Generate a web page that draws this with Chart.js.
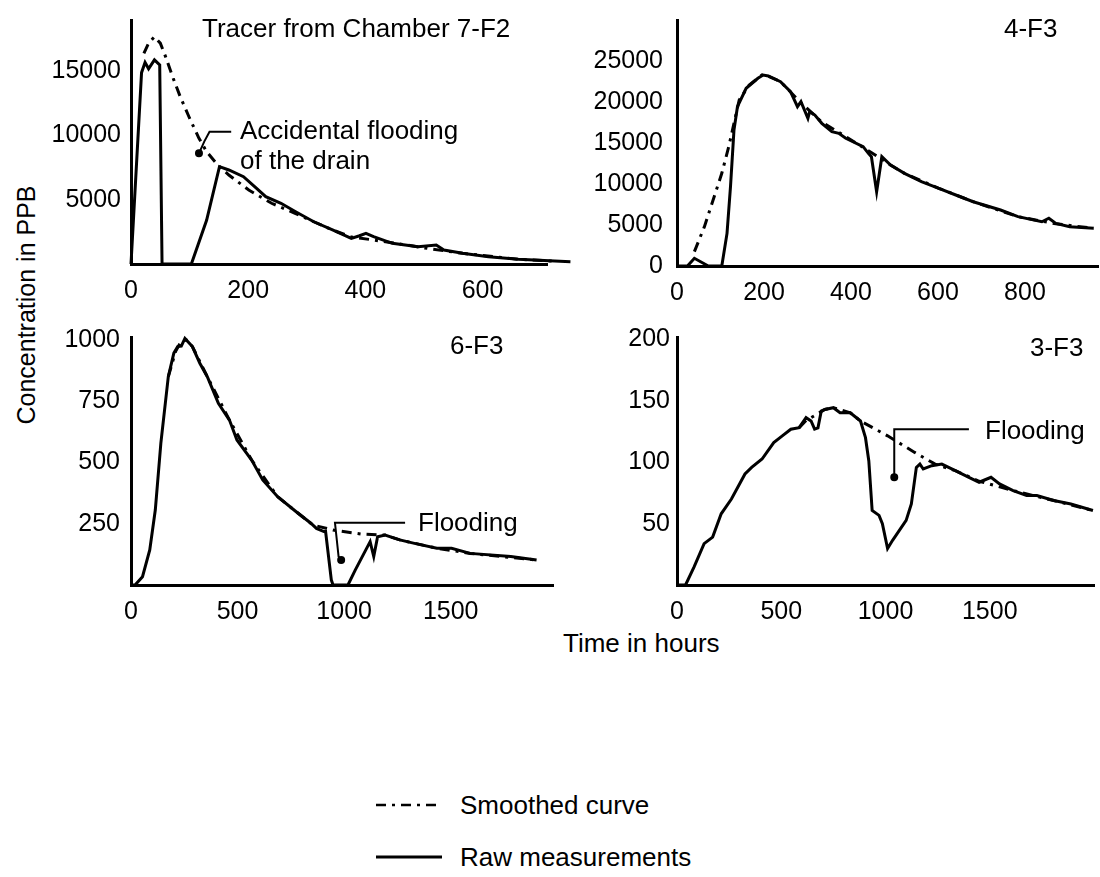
<!DOCTYPE html>
<html>
<head>
<meta charset="utf-8">
<title>Tracer concentrations</title>
<script src="https://cdn.jsdelivr.net/npm/chart.js@4.4.0/dist/chart.umd.min.js"></script>
<style>
  html, body { margin: 0; padding: 0; background: #fff; }
  #page { position: relative; width: 1100px; height: 877px; overflow: hidden;
          font-family: 'Liberation Sans', Arial, Helvetica, sans-serif; color: #000; }
  canvas { position: absolute; }
  .lbl { position: absolute; font-size: 26px; line-height: 26px; white-space: nowrap; }
  #ylab { left: -104px; top: 292px; width: 260px; text-align: center; font-size: 25px;
          transform: rotate(-90deg); }
  svg { position: absolute; }
</style>
</head>
<body>
<div id="page">
  <canvas id="tl"></canvas>
  <canvas id="tr"></canvas>
  <canvas id="bl"></canvas>
  <canvas id="br"></canvas>

  <div class="lbl" style="left:202px;top:15px">Tracer from Chamber 7-F2</div>
  <div class="lbl" style="left:1004px;top:15px">4-F3</div>
  <div class="lbl" style="left:450px;top:332px">6-F3</div>
  <div class="lbl" style="left:1030px;top:334px">3-F3</div>
  <div class="lbl" style="left:240px;top:117px">Accidental flooding</div>
  <div class="lbl" style="left:240px;top:147px">of the drain</div>
  <div class="lbl" style="left:418px;top:509px">Flooding</div>
  <div class="lbl" style="left:985px;top:417px">Flooding</div>
  <div class="lbl" style="left:563px;top:630px">Time in hours</div>
  <div class="lbl" id="ylab">Concentration in PPB</div>

  <svg width="80" height="80" style="left:372px;top:780px">
    <line x1="4" y1="25" x2="70" y2="25" stroke="#000" stroke-width="2.5" stroke-dasharray="10 6 3 6"/>
    <line x1="4" y1="77" x2="70" y2="77" stroke="#000" stroke-width="3"/>
  </svg>
  <div class="lbl" style="left:460px;top:792px">Smoothed curve</div>
  <div class="lbl" style="left:460px;top:844px">Raw measurements</div>
</div>

<script>
// Tracer from Chamber 7-F2
const tlRawHours = [0, 18, 24, 30, 40, 49, 53, 103, 129, 151, 167, 192, 211, 230, 256, 281, 312, 344, 376, 390, 401, 414, 446, 490, 521, 534, 566, 610, 661, 750];
const tlRawPpb   = [0, 14900, 15700, 15200, 15900, 15500, 0, 0, 3400, 7580, 7320, 6800, 6020, 5240, 4730, 4070, 3290, 2650, 2000, 2200, 2390, 2130, 1610, 1350, 1480, 1090, 830, 570, 370, 180];
const tlSmoothHours = [22, 30, 40, 50, 59, 72, 84, 100, 116, 129, 148, 167, 201, 240, 280, 312, 344, 376, 414, 470, 508, 566, 661, 720];
const tlSmoothPpb   = [16400, 17200, 17700, 17200, 16150, 14460, 13030, 11350, 9790, 8750, 7710, 6930, 5760, 4730, 3950, 3290, 2650, 2100, 1870, 1480, 1200, 830, 370, 220];
const tlNoteHours = [171, 134, 125, 116];
const tlNotePpb   = [10300, 10300, 9530, 8620];
const tlXTicks = [0, 200, 400, 600];
const tlYTicks = [5000, 10000, 15000];

// 4-F3
const trRawHours = [0, 24, 40, 72, 103, 115, 123, 131, 139, 159, 186, 198, 210, 238, 261, 277, 285, 301, 305, 317, 333, 356, 372, 388, 428, 440, 447, 459, 471, 491, 523, 562, 602, 641, 681, 744, 784, 839, 855, 871, 903, 958];
const trRawPpb   = [0, 0, 940, 0, 0, 3980, 9670, 16580, 19430, 21670, 22890, 23290, 23170, 22480, 21260, 19430, 20040, 18010, 18820, 18410, 17400, 16380, 16180, 15570, 14550, 13740, 13330, 9060, 13330, 12320, 11300, 10280, 9470, 8660, 7840, 6830, 6020, 5400, 5820, 5200, 4790, 4590];
const trSmoothHours = [40, 63, 83, 103, 119, 131, 143, 166, 198, 238, 285, 332, 388, 443, 491, 523, 602, 681, 784, 871, 958];
const trSmoothPpb   = [1750, 4800, 8050, 11300, 14550, 17400, 20240, 22070, 23400, 22480, 19900, 17600, 15770, 13960, 12320, 11300, 9470, 7840, 6020, 5150, 4590];
const trXTicks = [0, 200, 400, 600, 800];
const trYTicks = [0, 5000, 10000, 15000, 20000, 25000];

// 6-F3
const blRawHours = [0, 19, 54, 88, 114, 140, 175, 201, 219, 236, 253, 288, 323, 358, 410, 462, 497, 566, 618, 688, 775, 844, 870, 905, 913, 940, 948, 1018, 1052, 1122, 1139, 1157, 1192, 1261, 1330, 1435, 1504, 1591, 1782, 1903];
const blRawPpb   = [0, 0, 34, 143, 306, 578, 850, 946, 973, 975, 1006, 973, 905, 850, 741, 673, 592, 510, 429, 360, 299, 252, 231, 218, 218, 20, 0, 0, 61, 177, 116, 197, 204, 184, 170, 150, 150, 129, 116, 102];
const blSmoothHours = [175, 210, 236, 260, 288, 358, 462, 566, 688, 775, 853, 948, 1078, 1165, 1192, 1261, 1435, 1591, 1903];
const blSmoothPpb   = [850, 955, 995, 1000, 973, 850, 673, 510, 360, 299, 245, 224, 208, 204, 204, 184, 150, 129, 102];
const blNoteHours = [1286, 957, 974, 986];
const blNotePpb   = [254, 254, 116, 102];
const blXTicks = [0, 500, 1000, 1500];
const blYTicks = [250, 500, 750, 1000];

// 3-F3
const brRawHours = [0, 41, 82, 130, 171, 212, 261, 326, 358, 408, 464, 505, 546, 586, 619, 643, 660, 676, 692, 709, 750, 782, 831, 880, 904, 920, 936, 969, 985, 1010, 1034, 1099, 1124, 1148, 1165, 1181, 1222, 1270, 1335, 1400, 1449, 1506, 1547, 1612, 1677, 1726, 1807, 1889, 1995];
const brRawPpb   = [0, 0, 14.8, 33.7, 39, 58, 70, 90.4, 95.8, 102.6, 116, 121.5, 126.9, 128.2, 136.3, 133.6, 127, 128, 141.7, 143, 144.4, 140.3, 140.3, 133.6, 120, 101, 60.7, 56.7, 50, 29.7, 36.4, 52.6, 66, 95.8, 98.5, 94.5, 97.2, 98.5, 93.1, 87.7, 83.7, 87.7, 82.3, 76.9, 72.9, 72.9, 68.8, 66, 60.7];
const brSmoothHours = [586, 619, 660, 709, 750, 831, 880, 1010, 1140, 1238, 1335, 1449, 1612, 1807, 1995];
const brSmoothPpb   = [128.2, 134, 138, 143, 144.4, 140.3, 133.6, 121.5, 108, 98.5, 93.1, 84.5, 76.9, 68.8, 60.7];
const brNoteHours = [1400, 1042, 1042];
const brNotePpb   = [126.9, 126.9, 87.7];
const brXTicks = [0, 500, 1000, 1500];
const brYTicks = [50, 100, 150, 200];

const PAD_TOP = 30, Y_W = 90, X_H = 40;
const FONT = "'Liberation Sans', Arial, Helvetica, sans-serif";

function pts(hours, vals) {
  return hours.map((h, i) => ({ x: h, y: vals[i] }));
}

function line(hours, vals, extra) {
  return Object.assign({
    data: pts(hours, vals),
    borderColor: '#000',
    backgroundColor: '#000',
    borderWidth: 3,
    pointRadius: 0,
    fill: false,
    tension: 0,
    clip: false
  }, extra || {});
}

// leader line of a note: thin line with a blob at the arrow end
function note(hours, vals) {
  return line(hours, vals, {
    borderWidth: 2,
    pointRadius: hours.map((h, i) => (i === hours.length - 1 ? 3 : 0))
  });
}

function makePanel(id, area, padRight, xMax, yMax, xTicks, yTicks, yPad, datasets) {
  const cv = document.getElementById(id);
  const w = area.right - area.left + Y_W + padRight;
  const h = area.bottom - area.top + PAD_TOP + X_H;
  cv.width = w; cv.height = h;
  cv.style.left = (area.left - Y_W) + 'px';
  cv.style.top = (area.top - PAD_TOP) + 'px';

  const tickFont = { family: FONT, size: 25 };
  new Chart(cv, {
    type: 'line',
    data: { datasets: datasets },
    options: {
      responsive: false,
      animation: false,
      events: [],
      layout: { padding: { top: PAD_TOP, right: padRight, left: 0, bottom: 0 } },
      plugins: { legend: { display: false }, tooltip: { enabled: false } },
      scales: {
        x: {
          type: 'linear', min: 0, max: xMax,
          grid: { display: false, drawTicks: false },
          border: { display: true, color: '#000', width: 3 },
          ticks: { font: tickFont, color: '#000', padding: 12, maxRotation: 0, callback: v => String(v) },
          afterBuildTicks: s => { s.ticks = xTicks.map(v => ({ value: v })); },
          afterFit: s => { s.height = X_H; }
        },
        y: {
          type: 'linear', min: 0, max: yMax,
          grid: { display: false, drawTicks: false },
          border: { display: true, color: '#000', width: 3 },
          ticks: { font: tickFont, color: '#000', padding: yPad, callback: v => String(v) },
          afterBuildTicks: s => { s.ticks = yTicks.map(v => ({ value: v })); },
          afterFit: s => { s.width = Y_W; }
        }
      }
    }
  });
}

const dash = [10, 6, 3, 6];

makePanel('tl', { left: 131, top: 20, right: 547, bottom: 264 }, 30, 710, 19000, tlXTicks, tlYTicks, 10, [
  line(tlRawHours, tlRawPpb),
  line(tlSmoothHours, tlSmoothPpb, { borderDash: dash, borderWidth: 3 }),
  note(tlNoteHours, tlNotePpb)
]);

makePanel('tr', { left: 677, top: 20, right: 1098, bottom: 266 }, 2, 968, 30000, trXTicks, trYTicks, 14, [
  line(trRawHours, trRawPpb),
  line(trSmoothHours, trSmoothPpb, { borderDash: dash, borderWidth: 3 })
]);

makePanel('bl', { left: 131, top: 337, right: 553, bottom: 585 }, 10, 1980, 1012, blXTicks, blYTicks, 11, [
  line(blRawHours, blRawPpb),
  line(blSmoothHours, blSmoothPpb, { borderDash: dash, borderWidth: 3 }),
  note(blNoteHours, blNotePpb)
]);

makePanel('br', { left: 677, top: 337, right: 1100, bottom: 585 }, 0, 2000, 202, brXTicks, brYTicks, 7, [
  line(brRawHours, brRawPpb),
  line(brSmoothHours, brSmoothPpb, { borderDash: dash, borderWidth: 3 }),
  note(brNoteHours, brNotePpb)
]);
</script>
</body>
</html>
